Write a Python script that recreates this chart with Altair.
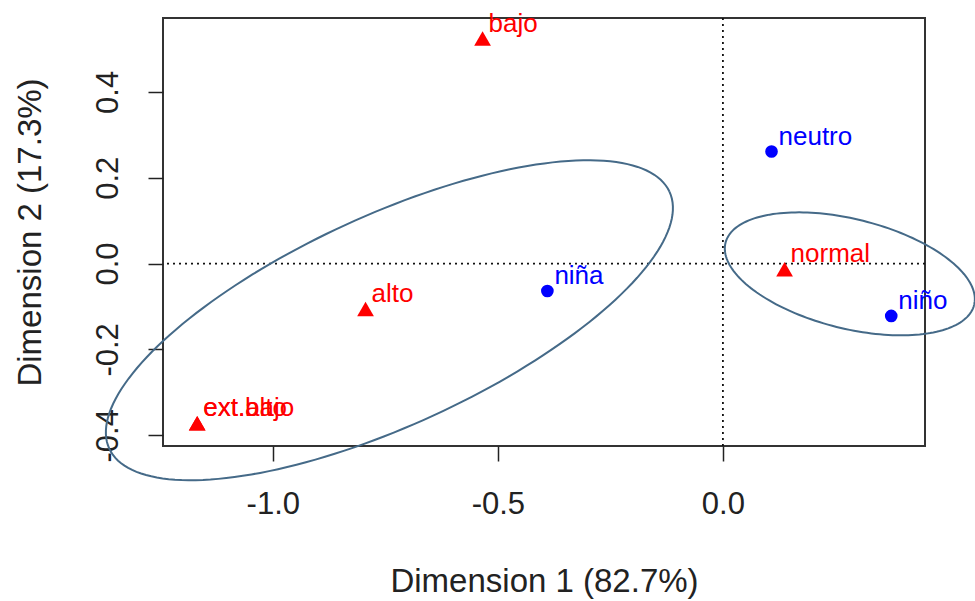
import altair as alt
import pandas as pd
import numpy as np

# ---- data ----
row_labels = ["bajo", "normal", "alto", "ext.bajo", "ext.alto"]
row_dim1 = [-0.534, 0.137, -0.794, -1.168, -1.168]
row_dim2 = [0.524, -0.013, -0.106, -0.372, -0.372]

col_labels = ["neutro", "niña", "niño"]
col_dim1 = [0.108, -0.390, 0.374]
col_dim2 = [0.261, -0.064, -0.122]

x_ticks = [-1.0, -0.5, 0.0]
y_ticks = [-0.4, -0.2, 0.0, 0.2, 0.4]
x_domain = [-1.244, 0.449]
y_domain = [-0.425, 0.572]

# ellipses: centre and two conjugate semi-axes (data units)
ell_id = ["left", "right"]
ell_cx = [-0.741, 0.282]
ell_cy = [-0.132, -0.024]
ell_ux = [0.6224, 0.2762]
ell_uy = [0.2991, -0.0724]
ell_vx = [-0.0972, 0.0295]
ell_vy = [0.2223, 0.1236]

# ---- tables ----
rows = pd.DataFrame({"label": row_labels, "d1": row_dim1, "d2": row_dim2})
cols = pd.DataFrame({"label": col_labels, "d1": col_dim1, "d2": col_dim2})

t = np.linspace(0, 2 * np.pi, 181)
ell_parts = []
for k in range(len(ell_id)):
    ell_parts.append(pd.DataFrame({
        "id": ell_id[k],
        "i": np.arange(len(t)),
        "d1": ell_cx[k] + ell_ux[k] * np.cos(t) + ell_vx[k] * np.sin(t),
        "d2": ell_cy[k] + ell_uy[k] * np.cos(t) + ell_vy[k] * np.sin(t),
    }))
ells = pd.concat(ell_parts, ignore_index=True)

FONT = "Liberation Sans"
AX = "#222222"

minus_fmt = "datum.value < 0 ? '-' + format(abs(datum.value), '.1f') : format(datum.value, '.1f')"

xaxis = alt.Axis(values=x_ticks, labelExpr=minus_fmt, grid=False, domain=False,
                 tickSize=15, tickWidth=1.5, tickColor=AX,
                 labelFont=FONT, labelFontSize=31, labelColor=AX, labelPadding=28,
                 labelFlush=False,
                 title="Dimension 1 (82.7%)", titleFont=FONT, titleFontSize=33,
                 titleFontWeight="normal", titleColor=AX,
                 titleX=381, titleY=145, titleBaseline="alphabetic", titleAlign="center")
yaxis = alt.Axis(values=y_ticks, labelExpr=minus_fmt, grid=False, domain=False,
                 tickSize=15, tickWidth=1.5, tickColor=AX,
                 labelFont=FONT, labelFontSize=31, labelColor=AX, labelPadding=24,
                 labelAngle=270, labelAlign="center", labelBaseline="bottom",
                 labelFlush=False,
                 title="Dimension 2 (17.3%)", titleFont=FONT, titleFontSize=33,
                 titleFontWeight="normal", titleColor=AX, titleAngle=270,
                 titleX=-123, titleY=214, titleBaseline="alphabetic", titleAlign="center")

def X():
    return alt.X("d1:Q", scale=alt.Scale(domain=x_domain, nice=False, zero=False), axis=xaxis)

def Y():
    return alt.Y("d2:Q", scale=alt.Scale(domain=y_domain, nice=False, zero=False), axis=yaxis)

vrule = alt.Chart(pd.DataFrame({"d1": [0.0]})).mark_rule(
    color="#111111", strokeDash=[2, 4], strokeWidth=1.8).encode(x=X())
hrule = alt.Chart(pd.DataFrame({"d2": [0.0]})).mark_rule(
    color="#111111", strokeDash=[2, 4], strokeWidth=1.8).encode(y=Y())

ellipse = alt.Chart(ells).mark_line(color="#456a88", strokeWidth=2, clip=False).encode(
    x=X(), y=Y(), detail="id:N", order="i:Q")

row_pts = alt.Chart(rows).mark_point(shape="triangle-up", filled=True, size=280,
                                     color="#ff0000", opacity=1).encode(x=X(), y=Y())
col_pts = alt.Chart(cols).mark_point(shape="circle", filled=True, size=160,
                                     color="#0000ff", opacity=1).encode(x=X(), y=Y())

row_txt = alt.Chart(rows).mark_text(align="left", baseline="alphabetic", dx=6, dy=-7,
                                    font=FONT, fontSize=26, color="#ff0000").encode(
    x=X(), y=Y(), text="label:N")
col_txt = alt.Chart(cols).mark_text(align="left", baseline="alphabetic", dx=7, dy=-7,
                                    font=FONT, fontSize=26, color="#0000ff").encode(
    x=X(), y=Y(), text="label:N")

chart = alt.layer(vrule, hrule, ellipse, row_pts, col_pts, row_txt, col_txt).properties(
    width=762, height=428,
    autosize=alt.AutoSizeParams(type="none"),
    padding={"left": 163, "top": 18, "right": 50, "bottom": 155},
    background="white",
).configure_view(stroke="#333333", strokeWidth=2)

chart.save("out.html", embed_options={"renderer": "svg", "actions": False})
